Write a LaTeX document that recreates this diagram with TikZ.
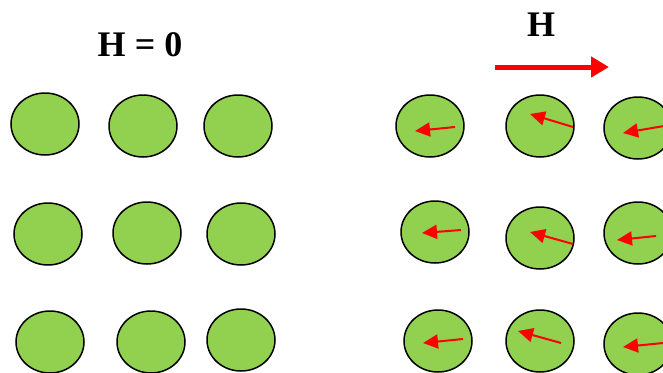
\documentclass[tikz,border=0pt]{standalone}
\usepackage{fontspec}
\setmainfont{Liberation Serif}
\usetikzlibrary{shapes.geometric, arrows.meta, calc}

\definecolor{grain green}{RGB}{146,208,80}
\tikzset{
  grain/.style={ellipse, draw=black, line width=1.5pt, fill=grain green,
    minimum width=68pt, minimum height=62pt, inner sep=0pt},
  spin/.style={red, line width=2pt, -{Triangle[length=15pt,width=14pt]}},
  field/.style={red, line width=5pt, -{Triangle[length=18pt,width=20pt]}},
  title/.style={font=\fontsize{36}{36}\selectfont\bfseries}
}

\begin{document}
\begin{tikzpicture}[x=1pt,y=-1pt]
\useasboundingbox (0,0) rectangle (663,372);
\clip (0,0) rectangle (663,372);

% no field
\node[title] (h0) at (140,45) {H = 0};

\node[grain] (a11) at (45,124) {};
\node[grain] (a12) at (143,126) {};
\node[grain] (a13) at (238,126) {};
\node[grain] (a21) at (48,234) {};
\node[grain] (a22) at (147,233) {};
\node[grain] (a23) at (241,234) {};
\node[grain] (a31) at (50,342) {};
\node[grain] (a32) at (151,342) {};
\node[grain] (a33) at (241,340) {};

% applied field
\node[title] (h) at (541,25) {H};
\coordinate (f0) at (495,67);
\coordinate (f1) at (609,67);
\draw[field] (f0) -- (f1);

\node[grain] (b11) at (430,126) {};
\node[grain] (b12) at (540,126) {};
\node[grain] (b13) at (638,128) {};
\node[grain] (b21) at (435,232) {};
\node[grain] (b22) at (540,238) {};
\node[grain] (b23) at (638,233) {};
\node[grain] (b31) at (438,341) {};
\node[grain] (b32) at (540,341) {};
\node[grain] (b33) at (638,344) {};

% spins inside the grains
\draw[spin] ($(b11)+(25,1)$) -- ($(b11)+(-15,5)$);
\draw[spin] ($(b12)+(33,1)$) -- ($(b12)+(-10,-12)$);
\draw[spin] ($(b13)+(26,-2)$) -- ($(b13)+(-15,5)$);
\draw[spin] ($(b21)+(26,-2)$) -- ($(b21)+(-13,1)$);
\draw[spin] ($(b22)+(33,6)$) -- ($(b22)+(-10,-6)$);
\draw[spin] ($(b23)+(18,3)$) -- ($(b23)+(-21,7)$);
\draw[spin] ($(b31)+(25,-2)$) -- ($(b31)+(-15,2)$);
\draw[spin] ($(b32)+(21,2)$) -- ($(b32)+(-22,-10)$);
\draw[spin] ($(b33)+(25,-1)$) -- ($(b33)+(-15,3)$);

\end{tikzpicture}
\end{document}
